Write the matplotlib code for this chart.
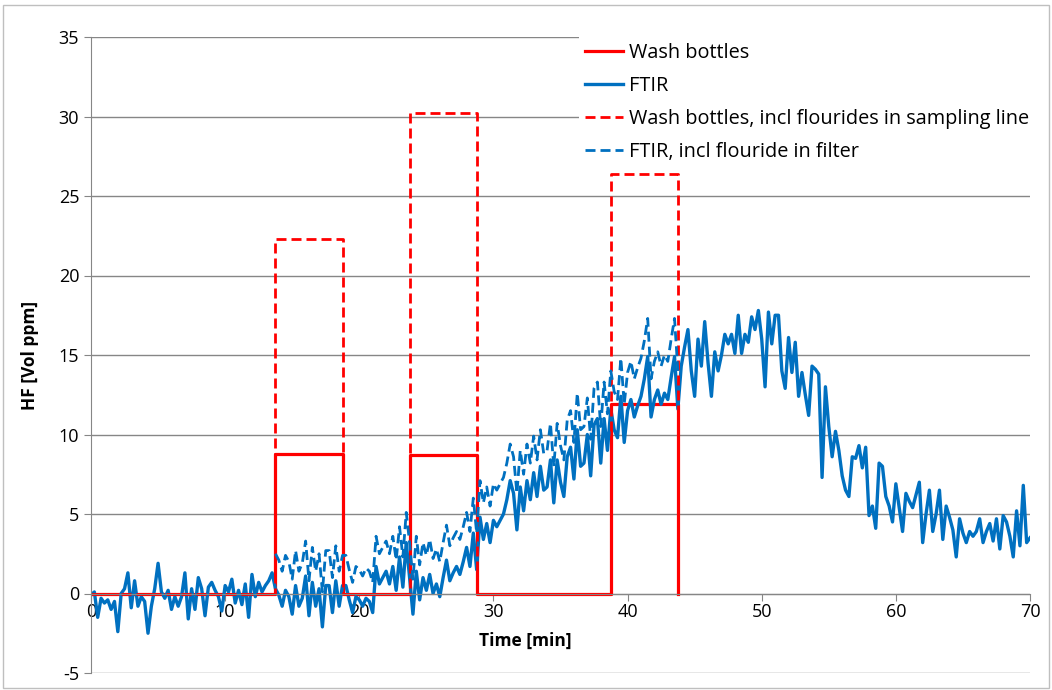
import numpy as np
import matplotlib.pyplot as plt
from matplotlib.patches import Rectangle

plt.rcParams['font.family'] = ['Open Sans', 'DejaVu Sans']
plt.rcParams['axes.unicode_minus'] = False

# FTIR HF reading, one value every 0.25 min from 0 to 70 min
ftir_step = 0.25
ftir = [
    -0.1, 0.1, -1.5, -0.3,   -0.6, -0.4, -1.0, -0.5,   -2.4, 0.0, 0.3, 1.3,   -0.9, 0.8, -0.8, -0.2,
    -0.5, -2.5, -0.8, 0.3,   1.9, 0.1, -0.3, 0.2,   -1.0, -0.2, -0.8, -0.2,   1.3, -1.6, 0.3, -1.0,
    1.0, 0.3, -1.4, 0.4,   0.7, 0.2, -0.2, -1.1,   0.5, 0.1, 0.9, -0.6,   0.2, -0.7, 0.6, -1.5,
    1.2, -0.2, 0.7, 0.1,   0.5, 0.8, 1.3, 0.3,   -0.1, -0.8, 0.2, -0.2,   -1.3, 0.5, -0.8, -0.3,
    1.1, -1.4, 0.7, -0.8,   0.3, -2.1, 0.5, 0.5,   -1.2, 0.8, -0.8, 0.5,   0.5, -0.4, -1.2, -0.2,
    -0.4, -0.8, -0.3, -0.5,   -1.2, 1.7, 0.6, 1.0,   1.4, 0.6, 1.7, 0.2,   2.3, 0.4, 3.2, 1.0,
    -1.3, 1.4, -0.4, 1.0,   0.2, 1.2, 0.0, 0.6,   -0.2, 1.0, 2.1, 0.8,   1.3, 1.7, 1.2, 2.0,
    2.9, 1.7, 3.8, 1.5,   4.8, 3.4, 4.4, 3.2,   4.6, 4.2, 4.6, 5.0,   5.9, 7.1, 6.3, 4.0,
    6.7, 5.2, 7.1, 5.9,   7.6, 6.1, 8.0, 6.5,   6.7, 8.4, 5.7, 8.4,   7.0, 6.1, 8.6, 9.2,
    7.2, 10.3, 8.0, 8.2,   10.0, 7.4, 10.6, 11.0,   8.2, 11.0, 9.0, 11.6,   10.3, 9.8, 12.4, 9.5,
    11.5, 12.2, 11.1, 11.8,   12.4, 13.5, 14.9, 11.1,   12.2, 12.8, 11.9, 12.6,   12.2, 13.6, 14.9, 11.6,
    14.3, 15.5, 16.6, 14.0,   12.4, 16.0, 14.3, 17.1,   14.5, 12.4, 15.2, 14.0,   15.0, 16.3, 15.7, 16.3,
    15.1, 17.5, 15.1, 16.3,   15.8, 17.4, 16.6, 17.8,   16.0, 13.0, 17.7, 15.7,   17.5, 17.5, 14.0, 12.9,
    16.1, 13.9, 15.8, 12.4,   13.9, 12.5, 11.2, 14.3,   14.1, 13.8, 7.3, 13.0,   10.5, 8.6, 10.2, 9.0,
    7.4, 6.5, 6.1, 8.6,   8.5, 9.3, 7.9, 9.2,   4.9, 5.5, 4.1, 8.2,   8.0, 6.1, 5.5, 4.5,
    6.9, 5.4, 3.9, 6.3,   5.8, 5.4, 6.2, 7.0,   3.2, 5.0, 6.5, 3.9,   5.0, 6.5, 3.4, 5.5,
    4.8, 4.0, 2.3, 4.7,   3.8, 3.2, 3.9, 3.6,   3.9, 4.7, 3.2, 3.9,   4.4, 3.3, 4.7, 2.8,
    4.9, 4.5, 3.6, 2.3,   5.2, 3.0, 6.8, 3.2,   3.5,
]

# fluoride caught in the filter, added on top of FTIR for each sampling period
filter_start = [13.75, 18.75, 23.75, 28.75, 38.75]
filter_end = 43.75
filter_add = [2.2, 1.9, 2.2, 2.3, 2.4]

# wash bottle sampling periods (step series)
wash_t = [0, 13.75, 18.75, 23.75, 28.75, 38.75, 43.75]
wash = [0, 8.8, 0, 8.7, 0, 11.9, 0]
wash_line = [0, 22.3, 0, 30.2, 0, 26.4, 0]

t = np.arange(len(ftir)) * ftir_step
ftir = np.array(ftir)

mask = (t >= filter_start[0]) & (t <= filter_end)
t_f = t[mask]
add = np.zeros_like(t_f)
for s, a in zip(filter_start, filter_add):
    add[t_f >= s] = a
ftir_filter = ftir[mask] + add

red = '#FF0000'
blue = '#0070C0'
grey = '#868686'
dash = (0, (3.6, 1.8))

fig = plt.figure(figsize=(10.52, 6.90), dpi=100)
ax = fig.add_axes([91 / 1052, 17 / 690, 939 / 1052, 636 / 690])

ax.plot(wash_t, wash, drawstyle='steps-post', color=red, lw=2.3, label='Wash bottles')
ax.plot(t, ftir, color=blue, lw=2.4, label='FTIR')
ax.plot(wash_t, wash_line, drawstyle='steps-post', color=red, lw=2.0,
        ls=dash, label='Wash bottles, incl flourides in sampling line')
ax.plot(t_f, ftir_filter, color=blue, lw=2.0, ls=dash,
        label='FTIR, incl flouride in filter')

ax.set_xlim(0, 70)
ax.set_ylim(-5, 35)
ax.set_xticks(np.arange(0, 71, 10))
ax.set_yticks(np.arange(-5, 36, 5))
ax.grid(axis='y', color=grey, lw=1)
ax.set_axisbelow(True)

for side in ['top', 'right']:
    ax.spines[side].set_visible(False)
ax.spines['bottom'].set_position(('data', 0))
ax.spines['bottom'].set_color(grey)
ax.spines['left'].set_color(grey)
ax.tick_params(axis='both', colors=grey, labelcolor='black', labelsize=13, length=5)
ax.tick_params(axis='x', pad=2)

ax.set_ylabel('HF [Vol ppm]', fontsize=12.5, fontweight='bold', labelpad=14)
ax.set_xlabel('Time [min]', fontsize=12.5, fontweight='bold')
ax.xaxis.set_label_coords(0.462, 0.064)

leg = ax.legend(loc='upper left', bbox_to_anchor=(0.520, 1.0), fontsize=14.3,
                frameon=True, facecolor='white', edgecolor='none', framealpha=1,
                handlelength=1.9, handletextpad=0.3, labelspacing=0.66,
                borderpad=0.3, borderaxespad=0, fancybox=False)

fig.patches.append(Rectangle((0.003, 0.003), 0.994, 0.990, transform=fig.transFigure,
                             fill=False, edgecolor='#BFBFBF', lw=1))

fig.savefig('out.png', dpi=100)
